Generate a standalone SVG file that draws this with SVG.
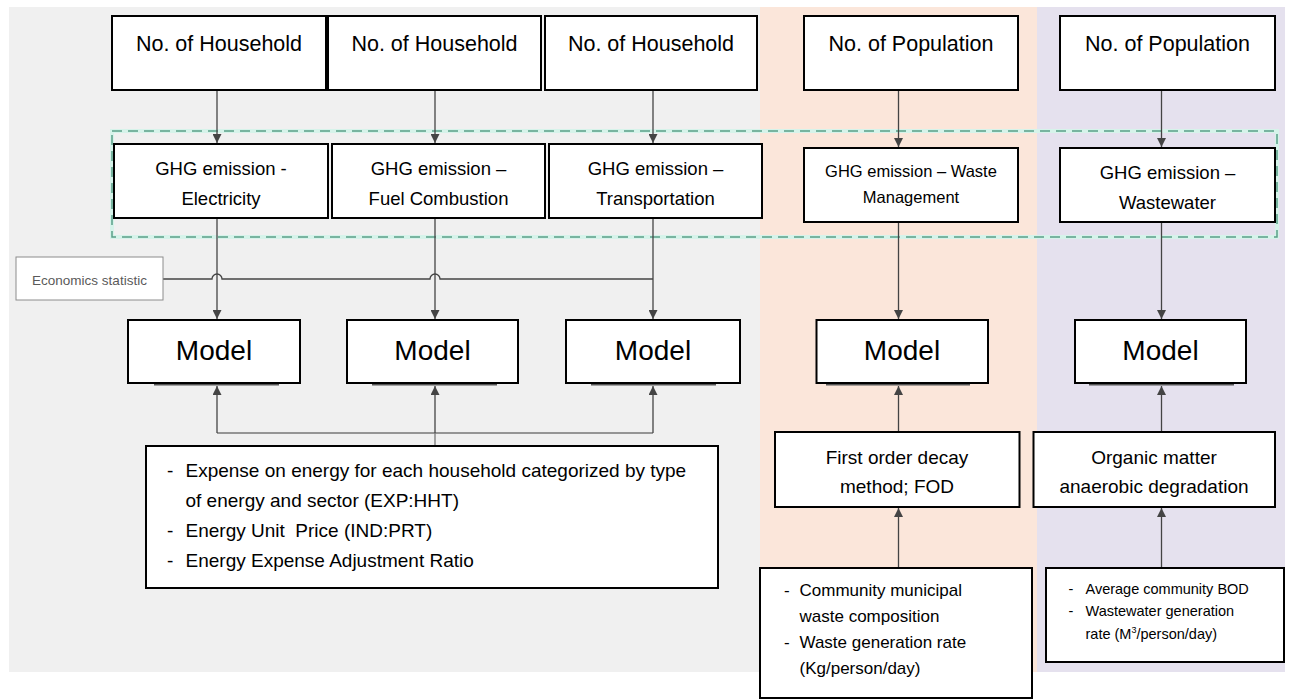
<svg xmlns="http://www.w3.org/2000/svg" width="1290" height="700" viewBox="0 0 1290 700">
<defs>
<style>
.box{fill:#fff;stroke:#000;stroke-width:2}
.t{font-family:"Liberation Sans",Arial,sans-serif;fill:#000;text-anchor:middle}
.tl{font-family:"Liberation Sans",Arial,sans-serif;fill:#000;white-space:pre}
.h{font-size:21.5px}
.g{font-size:18.5px}
.m{font-size:28px}
.c{stroke:#444;stroke-width:1.3;fill:none}
.cl{stroke:#777;stroke-width:1.3;fill:none}
.sh{stroke:#555;stroke-width:2}
</style>
<marker id="ah" markerUnits="userSpaceOnUse" markerWidth="9" markerHeight="9" refX="9" refY="4.5" orient="auto">
<path d="M0,0 L9,4.5 L0,9 z" fill="#444"/>
</marker>
</defs>
<rect x="0" y="0" width="1290" height="700" fill="#fff"/>
<g id="backgrounds">
<rect x="9" y="7" width="752" height="665" fill="#f0f0f0"/>
<rect x="760" y="7" width="277" height="665" fill="#fbe6da"/>
<rect x="1037" y="7" width="248" height="665" fill="#e5e1ee"/>
</g>
<g id="group-frame">
<rect x="112" y="131" width="1165" height="106" fill="none" stroke="#d6f3ea" stroke-width="4"/>
<rect x="112" y="131" width="1165" height="106" fill="none" stroke="#5aa088" stroke-width="1.5" stroke-dasharray="10,6"/>
</g>
<g id="connectors">
<line class="c" x1="217" y1="90" x2="217" y2="143" marker-end="url(#ah)"/>
<line class="c" x1="435" y1="90" x2="435" y2="143" marker-end="url(#ah)"/>
<line class="c" x1="653" y1="90" x2="653" y2="143" marker-end="url(#ah)"/>
<line class="c" x1="898.5" y1="90" x2="898.5" y2="147" marker-end="url(#ah)"/>
<line class="c" x1="1161.5" y1="90" x2="1161.5" y2="147" marker-end="url(#ah)"/>
<line class="c" x1="217" y1="218" x2="217" y2="319" marker-end="url(#ah)"/>
<line class="c" x1="435" y1="218" x2="435" y2="319" marker-end="url(#ah)"/>
<line class="c" x1="653" y1="218" x2="653" y2="319" marker-end="url(#ah)"/>
<line class="c" x1="898.5" y1="222" x2="898.5" y2="319" marker-end="url(#ah)"/>
<line class="c" x1="1161.5" y1="222" x2="1161.5" y2="319" marker-end="url(#ah)"/>
<path class="c" d="M163,279 H212 a5,5 0 0 1 10,0 H430 a5,5 0 0 1 10,0 H653"/>
<path class="cl" d="M217,433 H653"/>
<line class="cl" x1="435" y1="446" x2="435" y2="433"/>
<line class="c" x1="217" y1="433" x2="217" y2="386" marker-end="url(#ah)"/>
<line class="c" x1="435" y1="433" x2="435" y2="386" marker-end="url(#ah)"/>
<line class="c" x1="653" y1="433" x2="653" y2="386" marker-end="url(#ah)"/>
<line class="c" x1="898.5" y1="432" x2="898.5" y2="386" marker-end="url(#ah)"/>
<line class="c" x1="1161.5" y1="432" x2="1161.5" y2="386" marker-end="url(#ah)"/>
<line class="c" x1="898.5" y1="568" x2="898.5" y2="508" marker-end="url(#ah)"/>
<line class="c" x1="1161.5" y1="568" x2="1161.5" y2="508" marker-end="url(#ah)"/>
</g>
<g id="hh1"><rect class="box" x="112" y="16" width="214" height="74"/><text class="t h" x="219" y="50.5">No. of Household</text></g>
<g id="hh2"><rect class="box" x="328" y="16" width="213" height="74"/><text class="t h" x="434.5" y="50.5">No. of Household</text></g>
<g id="hh3"><rect class="box" x="545" y="16" width="212" height="74"/><text class="t h" x="651" y="50.5">No. of Household</text></g>
<g id="pop1"><rect class="box" x="804" y="16" width="214" height="74"/><text class="t h" x="911" y="50.5">No. of Population</text></g>
<g id="pop2"><rect class="box" x="1060" y="16" width="215" height="74"/><text class="t h" x="1167.5" y="50.5">No. of Population</text></g>
<g id="ghg-elec"><rect class="box" x="114" y="144" width="214" height="74"/><text class="t g" x="221" y="174.5">GHG emission -</text><text class="t g" x="221" y="204.5">Electricity</text></g>
<g id="ghg-fuel"><rect class="box" x="332" y="144" width="213" height="74"/><text class="t g" x="438.5" y="174.5">GHG emission –</text><text class="t g" x="438.5" y="204.5">Fuel Combustion</text></g>
<g id="ghg-trans"><rect class="box" x="549" y="144" width="213" height="74"/><text class="t g" x="655.5" y="174.5">GHG emission –</text><text class="t g" x="655.5" y="204.5">Transportation</text></g>
<g id="ghg-waste"><rect class="box" x="804" y="148" width="214" height="74"/><text class="t" style="font-size:16.5px" x="911" y="176.5">GHG emission – Waste</text><text class="t" style="font-size:16.5px" x="911" y="203">Management</text></g>
<g id="ghg-ww"><rect class="box" x="1060" y="148" width="215" height="74"/><text class="t g" x="1167.5" y="179">GHG emission –</text><text class="t g" x="1167.5" y="208.5">Wastewater</text></g>
<g id="econ"><rect x="16" y="257" width="147" height="43" fill="#fff" stroke="#8c8c8c" stroke-width="1"/><text class="t" style="font-size:13.5px;fill:#5a5a5a" x="89.5" y="285">Economics statistic</text></g>
<g id="model1"><line class="sh" x1="154" y1="384.5" x2="279" y2="384.5"/><rect class="box" x="128" y="320" width="172" height="63"/><text class="t m" x="214" y="360">Model</text></g>
<g id="model2"><line class="sh" x1="372" y1="384.5" x2="497" y2="384.5"/><rect class="box" x="347" y="320" width="171" height="63"/><text class="t m" x="432.5" y="360">Model</text></g>
<g id="model3"><line class="sh" x1="591" y1="384.5" x2="716" y2="384.5"/><rect class="box" x="566" y="320" width="174" height="63"/><text class="t m" x="653" y="360">Model</text></g>
<g id="model4"><line class="sh" x1="826" y1="384.5" x2="970" y2="384.5"/><rect class="box" x="816.5" y="320" width="171.5" height="63"/><text class="t m" x="902" y="360">Model</text></g>
<g id="model5"><line class="sh" x1="1089" y1="384.5" x2="1234" y2="384.5"/><rect class="box" x="1075" y="320" width="171" height="63"/><text class="t m" x="1160.5" y="360">Model</text></g>
<g id="energy-inputs"><rect class="box" x="146" y="446" width="572" height="142"/>
<g class="tl" style="font-size:19px">
<text x="167" y="477">-</text><text x="185.5" y="477">Expense on energy for each household categorized by type</text>
<text x="185.5" y="507">of energy and sector (EXP:HHT)</text>
<text x="167" y="537">-</text><text x="185.5" y="537" xml:space="preserve">Energy Unit  Price (IND:PRT)</text>
<text x="167" y="567">-</text><text x="185.5" y="567">Energy Expense Adjustment Ratio</text>
</g></g>
<g id="fod"><rect class="box" x="775" y="432" width="244.5" height="75"/><text class="t" style="font-size:19px" x="897" y="463.5">First order decay</text><text class="t" style="font-size:19px" x="897" y="493">method; FOD</text></g>
<g id="organic"><rect class="box" x="1033.5" y="432" width="241.5" height="75"/><text class="t" style="font-size:19px" x="1154" y="463.5">Organic matter</text><text class="t" style="font-size:19px" x="1154" y="493">anaerobic degradation</text></g>
<g id="waste-inputs"><rect class="box" x="760" y="568" width="272" height="130"/>
<g class="tl" style="font-size:17px">
<text x="784" y="596">-</text><text x="799.5" y="596">Community municipal</text>
<text x="799.5" y="622">waste composition</text>
<text x="784" y="648">-</text><text x="799.5" y="648">Waste generation rate</text>
<text x="799.5" y="674">(Kg/person/day)</text>
</g></g>
<g id="ww-inputs"><rect class="box" x="1046" y="568" width="238" height="94"/>
<g class="tl" style="font-size:14.5px">
<text x="1068.5" y="594">-</text><text x="1085.5" y="594">Average community BOD</text>
<text x="1068.5" y="616">-</text><text x="1085.5" y="616">Wastewater generation</text>
<text x="1085.5" y="639">rate (M<tspan dy="-6" style="font-size:9px">3</tspan><tspan dy="6">/person/day)</tspan></text>
</g></g>
</svg>
